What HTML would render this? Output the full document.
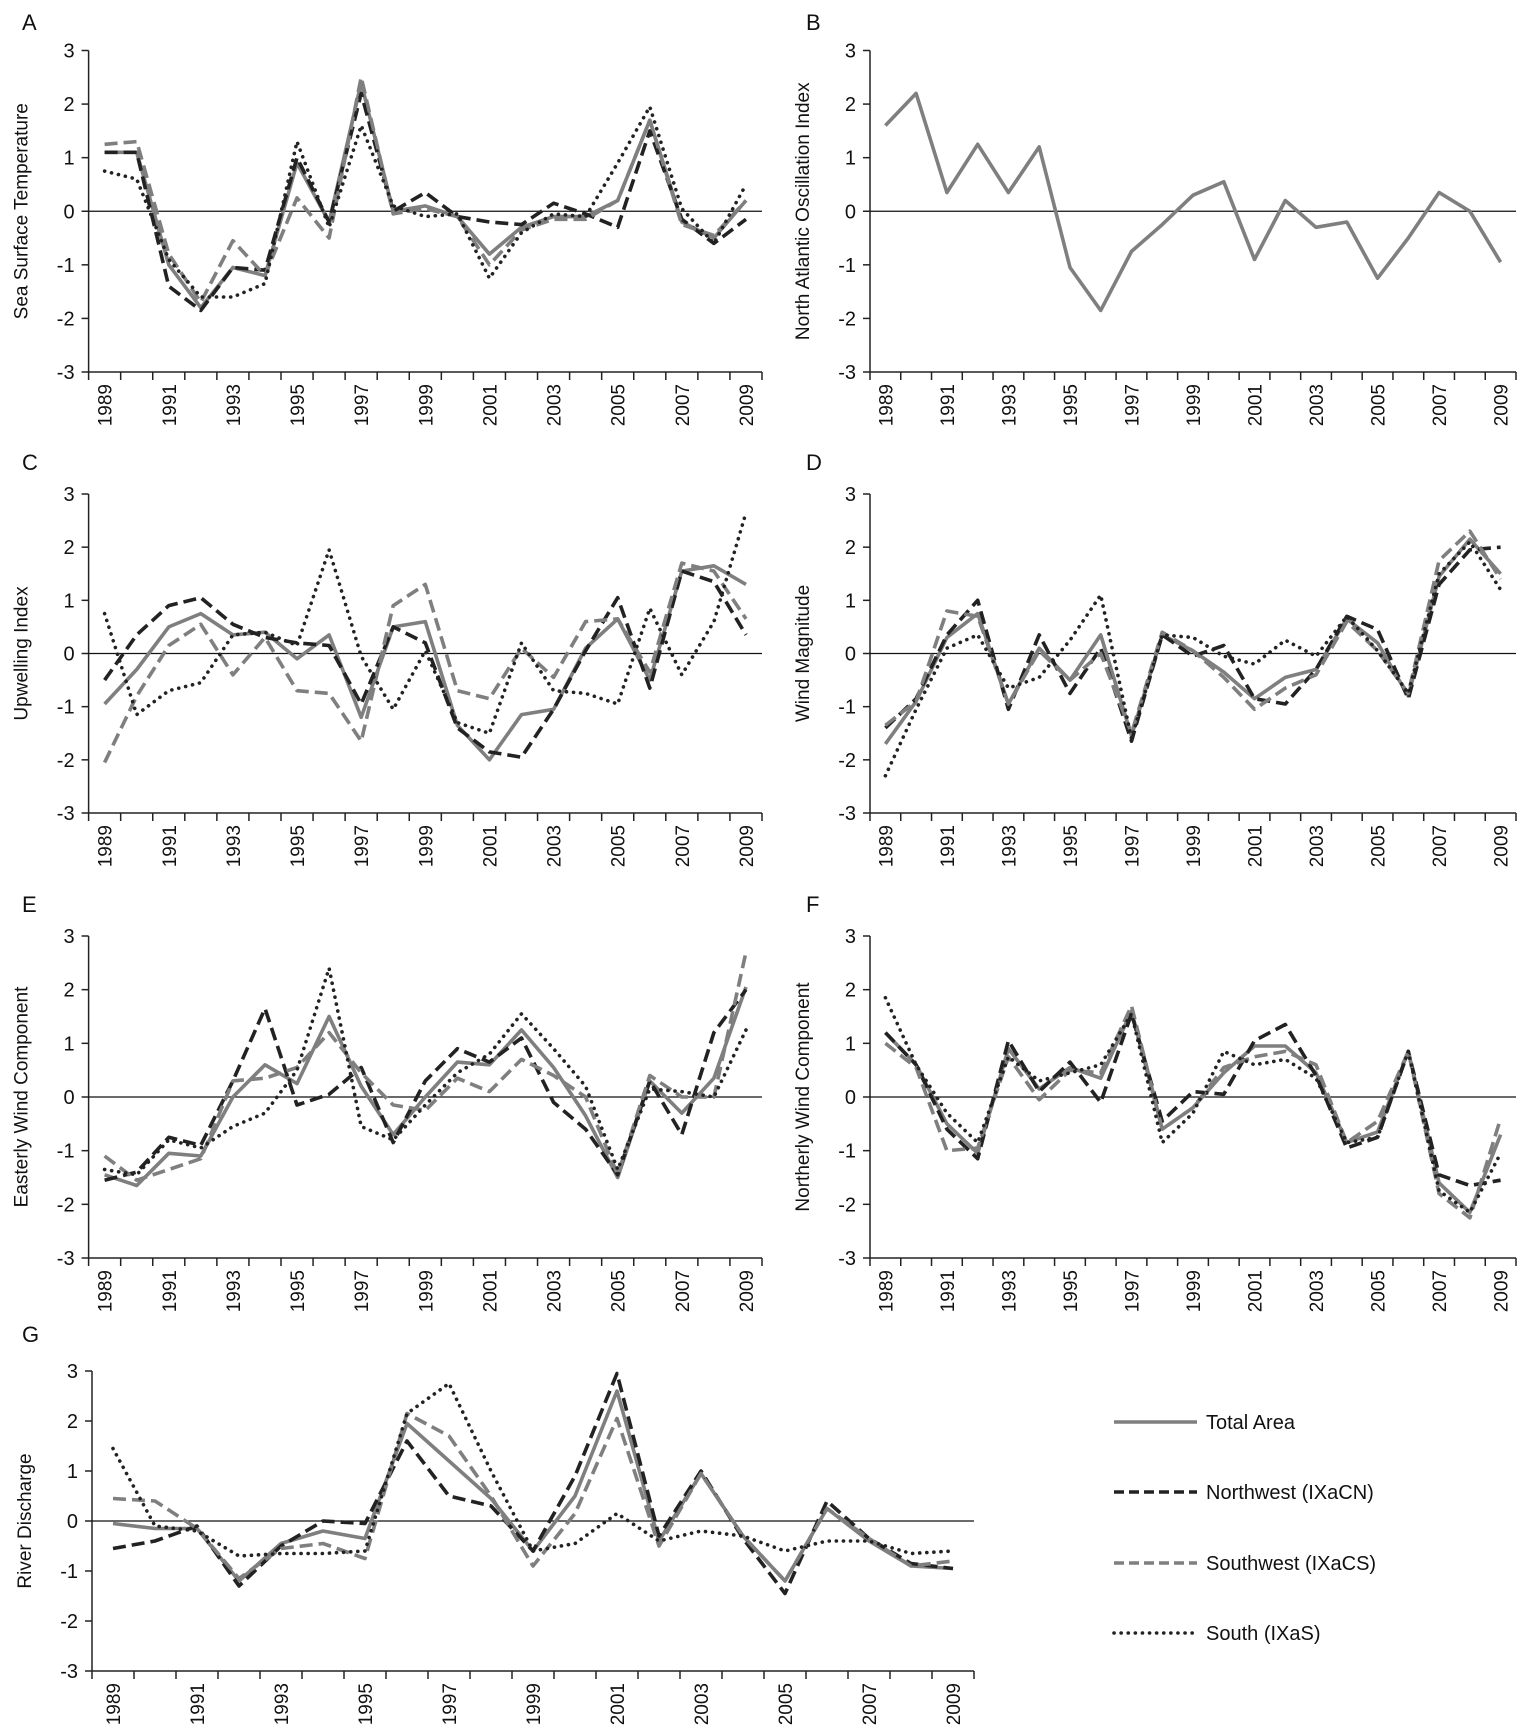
<!DOCTYPE html>
<html><head><meta charset="utf-8">
<style>
html,body{margin:0;padding:0;background:#fff;}
svg{display:block;font-family:"Liberation Sans Narrow","Liberation Sans",sans-serif;}
</style></head>
<body>
<svg id="chart" width="1535" height="1736" viewBox="0 0 1535 1736" xmlns="http://www.w3.org/2000/svg"></svg>
<script>
const years = [1989,1990,1991,1992,1993,1994,1995,1996,1997,1998,1999,2000,2001,2002,2003,2004,2005,2006,2007,2008,2009];
const yTicks = [3,2,1,0,-1,-2,-3];
const seriesNames = ["Total Area","Northwest (IXaCN)","Southwest (IXaCS)","South (IXaS)"];

const sstTotal = [1.1,1.1,-1.0,-1.8,-1.05,-1.2,0.9,-0.2,2.4,0.0,0.1,-0.1,-0.8,-0.3,-0.1,-0.1,0.2,1.7,-0.2,-0.5,0.2];
const sstNW = [1.1,1.1,-1.4,-1.85,-1.05,-1.1,1.0,-0.2,2.2,0.0,0.35,-0.1,-0.2,-0.25,0.15,-0.05,-0.3,1.5,-0.15,-0.6,-0.15];
const sstSW = [1.25,1.3,-0.8,-1.7,-0.55,-1.2,0.25,-0.5,2.5,-0.05,0.05,-0.1,-1.0,-0.35,-0.15,-0.15,0.2,1.7,-0.25,-0.45,0.2];
const sstS = [0.75,0.6,-0.9,-1.6,-1.6,-1.35,1.3,-0.3,1.6,0.1,-0.1,-0.05,-1.25,-0.4,-0.05,-0.1,0.9,1.95,0.05,-0.6,0.5];

const naoTotal = [1.6,2.2,0.35,1.25,0.35,1.2,-1.05,-1.85,-0.75,-0.25,0.3,0.55,-0.9,0.2,-0.3,-0.2,-1.25,-0.5,0.35,0.0,-0.95];

const upTotal = [-0.95,-0.3,0.5,0.75,0.35,0.4,-0.1,0.35,-1.2,0.5,0.6,-1.35,-2.0,-1.15,-1.05,0.1,0.65,-0.5,1.55,1.65,1.3];
const upNW = [-0.5,0.35,0.9,1.05,0.55,0.3,0.2,0.15,-0.95,0.5,0.2,-1.4,-1.85,-1.95,-1.05,0.05,1.05,-0.65,1.55,1.35,0.35];
const upSW = [-2.05,-0.8,0.15,0.55,-0.4,0.3,-0.7,-0.75,-1.65,0.9,1.3,-0.7,-0.85,0.1,-0.45,0.6,0.65,-0.35,1.7,1.55,0.65];
const upS = [0.75,-1.15,-0.7,-0.55,0.35,0.4,0.15,1.95,-0.05,-1.05,0.05,-1.3,-1.5,0.2,-0.7,-0.75,-0.95,0.85,-0.4,0.6,2.65];

const wmTotal = [-1.7,-0.9,0.3,0.75,-0.95,0.1,-0.5,0.35,-1.55,0.35,0.05,-0.35,-0.85,-0.45,-0.3,0.65,0.2,-0.8,1.45,2.15,1.5];
const wmNW = [-1.4,-0.85,0.35,1.0,-1.05,0.35,-0.75,0.1,-1.65,0.35,-0.05,0.15,-0.85,-0.95,-0.3,0.7,0.45,-0.85,1.3,1.95,2.0];
const wmSW = [-1.35,-0.9,0.8,0.7,-0.95,0.05,-0.5,0.0,-1.5,0.4,0.05,-0.45,-1.05,-0.65,-0.4,0.6,0.05,-0.75,1.75,2.3,1.4];
const wmS = [-2.3,-1.05,0.1,0.35,-0.65,-0.45,0.25,1.1,-1.6,0.35,0.3,-0.05,-0.2,0.25,-0.05,0.7,0.05,-0.75,1.5,2.1,1.2];

const ewTotal = [-1.45,-1.65,-1.05,-1.1,0.0,0.6,0.25,1.5,0.2,-0.7,0.0,0.65,0.6,1.25,0.55,-0.35,-1.5,0.3,-0.3,0.35,2.05];
const ewNW = [-1.55,-1.4,-0.75,-0.9,0.3,1.65,-0.15,0.05,0.55,-0.85,0.3,0.9,0.65,1.1,-0.1,-0.6,-1.45,0.3,-0.7,1.2,2.0];
const ewSW = [-1.1,-1.55,-1.35,-1.15,0.3,0.35,0.55,1.2,0.45,-0.15,-0.25,0.35,0.1,0.7,0.4,0.0,-1.45,0.4,0.0,0.0,2.7];
const ewS = [-1.35,-1.45,-0.8,-0.95,-0.55,-0.3,0.5,2.4,-0.55,-0.8,-0.15,0.45,0.8,1.55,0.9,0.2,-1.35,0.15,0.1,0.0,1.25];

const nwTotal = [1.2,0.6,-0.5,-1.05,0.9,0.15,0.55,0.35,1.6,-0.6,-0.2,0.45,0.95,0.95,0.45,-0.85,-0.65,0.85,-1.6,-2.15,-0.7];
const nwNW = [1.2,0.6,-0.6,-1.15,1.05,0.1,0.65,-0.1,1.55,-0.45,0.1,0.05,1.05,1.35,0.4,-0.95,-0.75,0.85,-1.45,-1.65,-1.55];
const nwSW = [1.0,0.55,-1.0,-0.95,0.75,-0.05,0.5,0.45,1.7,-0.6,-0.2,0.55,0.75,0.85,0.6,-0.85,-0.45,0.85,-1.8,-2.25,-0.4];
const nwS = [1.85,0.6,-0.3,-0.85,0.75,0.3,0.45,0.6,1.55,-0.85,-0.3,0.85,0.6,0.7,0.35,-0.85,-0.75,0.85,-1.75,-2.15,-1.05];

const rdTotal = [-0.05,-0.15,-0.15,-1.2,-0.45,-0.2,-0.35,1.95,1.2,0.45,-0.6,0.5,2.6,-0.4,0.95,-0.3,-1.2,0.25,-0.4,-0.9,-0.95];
const rdNW = [-0.55,-0.4,-0.1,-1.3,-0.5,0.0,-0.05,1.6,0.5,0.3,-0.6,0.9,2.95,-0.3,1.0,-0.35,-1.45,0.4,-0.35,-0.85,-0.95];
const rdSW = [0.45,0.4,-0.15,-1.15,-0.55,-0.45,-0.75,2.15,1.7,0.5,-0.9,0.15,2.05,-0.5,0.95,-0.3,-1.2,0.25,-0.35,-0.9,-0.8];
const rdS = [1.45,-0.1,-0.2,-0.7,-0.65,-0.65,-0.6,2.15,2.75,1.0,-0.6,-0.45,0.15,-0.4,-0.2,-0.3,-0.6,-0.4,-0.4,-0.65,-0.6];

const NS = "http://www.w3.org/2000/svg";
const svg = document.getElementById('chart');
const styles = [
  {stroke:"#7f7f7f", dash:null, cap:"butt"},
  {stroke:"#222", dash:"13,6", cap:"butt"},
  {stroke:"#7f7f7f", dash:"13,6", cap:"butt"},
  {stroke:"#222", dash:"0.1,7", cap:"round"}
];
function mk(tag, attrs, parent){
  const e = document.createElementNS(NS, tag);
  for (const k in attrs) e.setAttribute(k, attrs[k]);
  (parent||svg).appendChild(e);
  return e;
}
function panel(key, letter, title, x0, x1, yTop, yBot, series, letterX, letterY){
  const g = mk('g', {});
  
  
  const n = years.length, bw = (x1 - x0) / n;
  const xs = i => x0 + bw * (i + 0.5);
  const ys = v => yTop + (3 - v) / 6 * (yBot - yTop);
  const lt = mk('text', {x:letterX, y:letterY, 'font-size':22, fill:'#111'}, g);
  lt.textContent = letter;
  
  
  const yt = mk('text', {x:0, y:0, 'font-size':19, fill:'#111', 'text-anchor':'middle', transform:`translate(${x0-61},${(yTop+yBot)/2}) rotate(-90)`}, g);
  yt.textContent = title;
  
  
  // y axis
  const ya = mk('line', {x1:x0, y1:yTop, x2:x0, y2:yBot, stroke:'#222', 'stroke-width':1.5}, g);
  
  
  yTicks.forEach(v => {
    mk('line', {x1:x0-7, y1:ys(v), x2:x0, y2:ys(v), stroke:'#222', 'stroke-width':1.5}, g);
    const t = mk('text', {x:x0-14, y:ys(v)+7, 'font-size':20, fill:'#111', 'text-anchor':'end'}, g);
    t.textContent = v;
    
    
  });
  // x axis
  const xa = mk('line', {x1:x0, y1:yBot, x2:x1, y2:yBot, stroke:'#222', 'stroke-width':1.5}, g);
  
  
  for (let i = 0; i <= n; i++) mk('line', {x1:x0+bw*i, y1:yBot, x2:x0+bw*i, y2:yBot+8, stroke:'#222', 'stroke-width':1.5}, g);
  years.forEach((yr, i) => {
    if (i % 2) return;
    const t = mk('text', {x:0, y:0, 'font-size':19, fill:'#111', 'text-anchor':'end', transform:`translate(${xs(i)+7},${yBot+12}) rotate(-90)`}, g);
    t.textContent = yr;
    
    
  });
  // zero line
  const z = mk('line', {x1:x0, y1:ys(0), x2:x1, y2:ys(0), stroke:'#111', 'stroke-width':1.3}, g);
  
  
  // series (draw in reverse so total on top-ish like source)
  series.forEach((vals, si) => {
    if (!vals) return;
    const st = styles[si];
    const d = vals.map((v, i) => (i ? 'L' : 'M') + xs(i).toFixed(1) + ',' + ys(v).toFixed(1)).join(' ');
    const p = mk('path', {d:d, fill:'none', stroke:st.stroke, 'stroke-width':3.6, 'stroke-linejoin':'round', 'stroke-linecap':st.cap}, g);
    if (st.dash) p.setAttribute('stroke-dasharray', st.dash);
    
    
  });
}
panel('sst','A','Sea Surface Temperature',88.6,762,50.5,372,[sstTotal,sstNW,sstSW,sstS],22,30);
panel('nao','B','North Atlantic Oscillation Index',870,1516,50.5,372,[naoTotal],806,30);
panel('upwelling','C','Upwelling Index',88.6,762,494,813,[upTotal,upNW,upSW,upS],22,470);
panel('wind-magnitude','D','Wind Magnitude',870,1516,494,813,[wmTotal,wmNW,wmSW,wmS],806,470);
panel('easterly-wind','E','Easterly Wind Component',88.6,762,936,1258,[ewTotal,ewNW,ewSW,ewS],22,912);
panel('northerly-wind','F','Northerly Wind Component',870,1516,936,1258,[nwTotal,nwNW,nwSW,nwS],806,912);
panel('river-discharge','G','River Discharge',92,974,1371,1671,[rdTotal,rdNW,rdSW,rdS],22,1342);

// legend
const leg = mk('g', {});


const legY = [1422,1492,1563,1633];
seriesNames.forEach((name, i) => {
  const st = styles[i];
  const l = mk('line', {x1:1114, y1:legY[i], x2:1197, y2:legY[i], stroke:st.stroke, 'stroke-width':3.6, 'stroke-linecap':st.cap}, leg);
  if (st.dash) l.setAttribute('stroke-dasharray', i===3 ? '0.1,7' : '10,5');
  
  
  const t = mk('text', {x:1206, y:legY[i]+7, 'font-size':20, fill:'#111'}, leg);
  t.textContent = name;
  
  
});
</script>
</body></html>
